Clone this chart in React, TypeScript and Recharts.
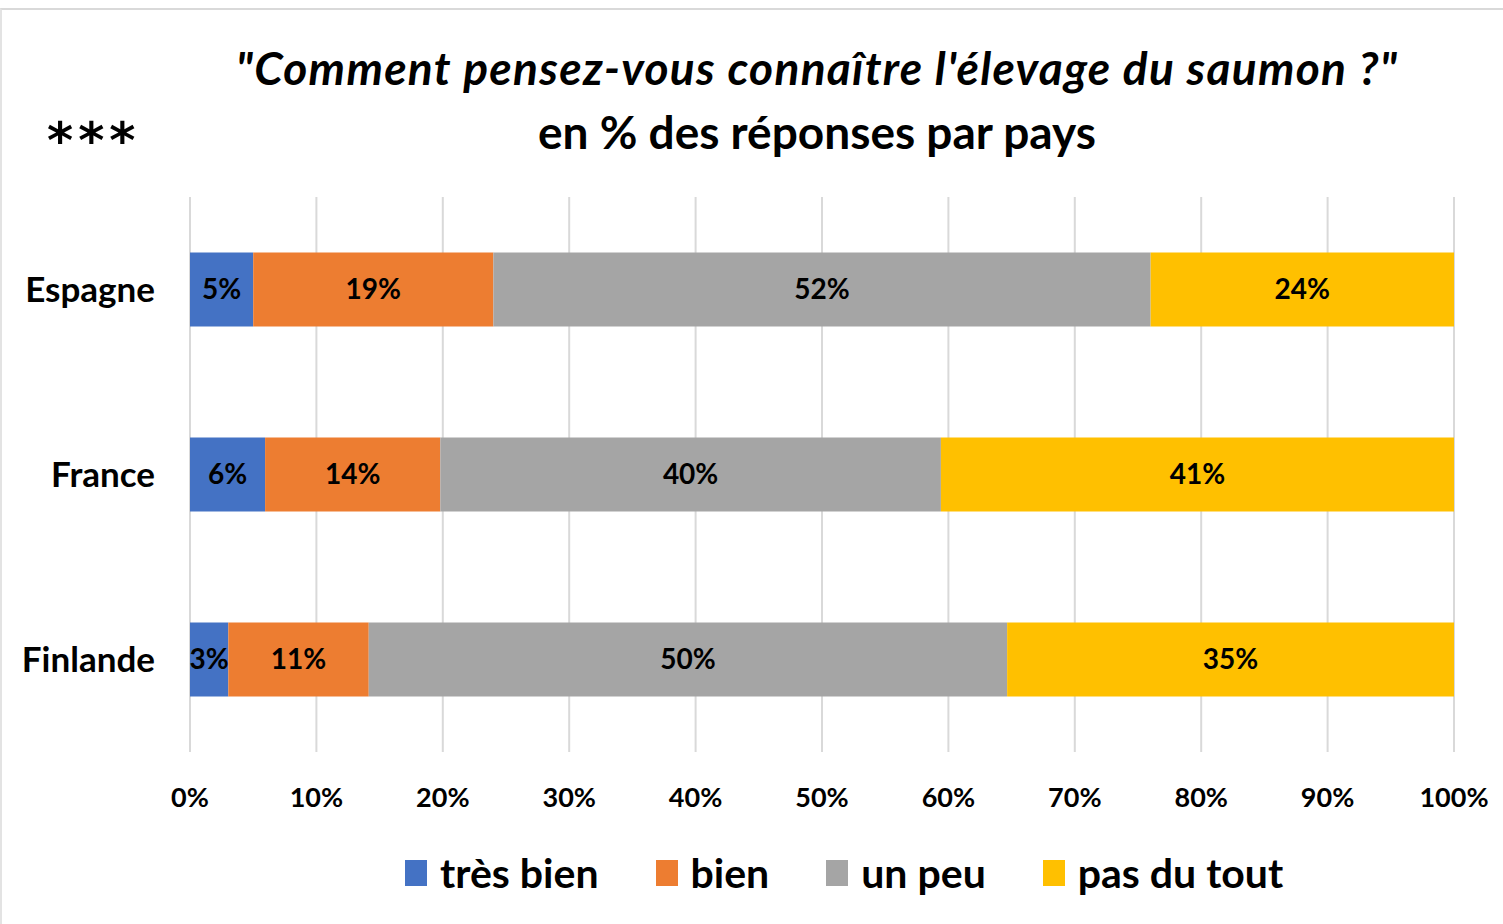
import React from "react";
import {
  BarChart,
  Bar,
  XAxis,
  YAxis,
  CartesianGrid,
  LabelList,
} from "recharts";

// Answers per country, in % (rows = countries)
const countries = ["Espagne", "France", "Finlande"];
const tresBien = [5, 6, 3];
const bien = [19, 14, 11];
const unPeu = [52, 40, 50];
const pasDuTout = [24, 41, 35];
const xTicks = [0, 0.1, 0.2, 0.3, 0.4, 0.5, 0.6, 0.7, 0.8, 0.9, 1];

const series = [
  { key: "tresBien", name: "très bien", color: "#4472C4", values: tresBien },
  { key: "bien", name: "bien", color: "#ED7D31", values: bien },
  { key: "unPeu", name: "un peu", color: "#A5A5A5", values: unPeu },
  { key: "pasDuTout", name: "pas du tout", color: "#FFC000", values: pasDuTout },
];

const data = countries.map((country, i) => {
  const row: Record<string, string | number> = { country };
  series.forEach((s) => {
    row[s.key] = s.values[i];
  });
  return row;
});

const FONT = "Lato, 'Open Sans', sans-serif";

const App: React.FC = () => {
  return (
    <div
      style={{
        position: "absolute",
        left: 0,
        top: 0,
        width: 1503,
        height: 924,
        overflow: "hidden",
        background: "#ffffff",
        fontFamily: FONT,
      }}
    >
      {/* frame */}
      <div
        style={{
          position: "absolute",
          left: 0,
          top: 8,
          width: 1520,
          height: 940,
          borderTop: "2px solid #d9d9d9",
          borderLeft: "2px solid #e3e3e3",
        }}
      />

      {/* title */}
      <div
        style={{
          position: "absolute",
          left: 117,
          width: 1400,
          top: 36,
          textAlign: "center",
          fontSize: 46,
          fontWeight: 700,
          color: "#000",
          lineHeight: "64px",
        }}
      >
        <div style={{ fontStyle: "italic", letterSpacing: 1.3 }}>
          "Comment pensez-vous connaître l'élevage du saumon ?"
        </div>
        <div>en % des réponses par pays</div>
      </div>

      <div
        style={{
          position: "absolute",
          left: 47,
          top: 112,
          fontSize: 50,
          fontWeight: 700,
          fontFamily: "'DejaVu Sans', sans-serif",
          color: "#000",
          letterSpacing: 5,
        }}
      >
        ***
      </div>

      <div style={{ position: "absolute", left: 0, top: 0 }}>
        <BarChart
          width={1503}
          height={924}
          data={data}
          layout="vertical"
          stackOffset="expand"
          barCategoryGap="30%"
          margin={{ top: 197, right: 49, bottom: 112, left: 0 }}
        >
          <CartesianGrid
            horizontal={false}
            stroke="#d9d9d9"
            strokeWidth={2}
          />
          <XAxis
            type="number"
            domain={[0, 1]}
            ticks={xTicks}
            tickFormatter={(v: number) => `${Math.round(v * 100)}%`}
            axisLine={false}
            tickLine={false}
            tickMargin={30}
            height={60}
            interval={0}
            tick={{
              fontSize: 27,
              fontWeight: 700,
              fill: "#000",
              fontFamily: FONT,
            }}
          />
          <YAxis
            type="category"
            dataKey="country"
            width={190}
            axisLine={false}
            tickLine={false}
            tickMargin={29}
            tick={{
              fontSize: 35,
              fontWeight: 700,
              fill: "#000",
              fontFamily: FONT,
            }}
          />
          {series.map((s) => (
            <Bar
              key={s.key}
              dataKey={s.key}
              name={s.name}
              stackId="a"
              fill={s.color}
              isAnimationActive={false}
            >
              <LabelList
                dataKey={s.key}
                position="center"
                formatter={(v: number) => `${v}%`}
                style={{
                  fontSize: 28,
                  fontWeight: 700,
                  fill: "#000",
                  fontFamily: FONT,
                }}
              />
            </Bar>
          ))}
        </BarChart>
      </div>

      {/* legend */}
      <div
        style={{
          position: "absolute",
          left: 405,
          top: 848,
          display: "flex",
          alignItems: "center",
          fontSize: 41,
          fontWeight: 700,
          color: "#000",
        }}
      >
        {series.map((s, i) => (
          <div
            key={s.key}
            style={{
              display: "flex",
              alignItems: "center",
              marginRight: i < series.length - 1 ? 57 : 0,
            }}
          >
            <span
              style={{
                display: "inline-block",
                width: 22,
                height: 26,
                background: s.color,
                marginRight: 13,
              }}
            />
            <span>{s.name}</span>
          </div>
        ))}
      </div>
    </div>
  );
};

export default App;
